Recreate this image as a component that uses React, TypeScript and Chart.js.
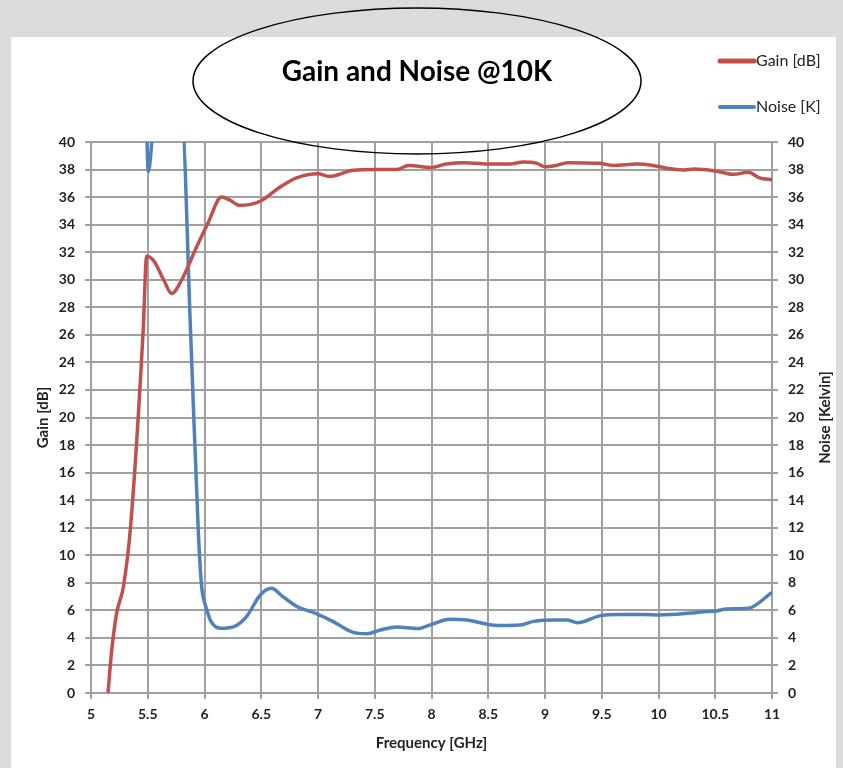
import React, { useEffect, useRef } from 'react';
import { Chart, registerables } from 'chart.js';

Chart.register(...registerables);

const chartTitle = 'Gain and Noise @10K';
const seriesNames = ['Gain [dB]', 'Noise [K]'];
const xAxisTitle = 'Frequency [GHz]';
const leftAxisTitle = 'Gain [dB]';
const rightAxisTitle = 'Noise [Kelvin]';

const xTickLabels = ['5', '5.5', '6', '6.5', '7', '7.5', '8', '8.5', '9', '9.5', '10', '10.5', '11'];
const yTickLabels = ['0', '2', '4', '6', '8', '10', '12', '14', '16', '18', '20', '22', '24', '26', '28', '30', '32', '34', '36', '38', '40'];

const gainFreq = [5.15, 5.18, 5.226, 5.285, 5.35, 5.46, 5.49, 5.55, 5.64, 5.71, 5.8, 5.92, 6.03, 6.15, 6.22, 6.31, 6.49, 6.67, 6.81, 7.0, 7.1, 7.31, 7.5, 7.69, 7.8, 8.0, 8.13, 8.3, 8.49, 8.69, 8.81, 8.93, 9.0, 9.1, 9.2, 9.48, 9.6, 9.81, 9.95, 10.07, 10.22, 10.31, 10.5, 10.66, 10.79, 10.89, 11.0];
const gainValues = [0, 2.9, 5.8, 7.7, 12.2, 26.4, 31.7, 31.4, 30.0, 29.0, 30.0, 32.2, 34.1, 36.0, 35.8, 35.4, 35.7, 36.75, 37.4, 37.7, 37.5, 37.95, 38.0, 38.0, 38.3, 38.15, 38.4, 38.5, 38.4, 38.4, 38.55, 38.45, 38.2, 38.3, 38.5, 38.45, 38.3, 38.4, 38.3, 38.1, 37.97, 38.04, 37.9, 37.65, 37.8, 37.4, 37.25];

const noiseFreq = [5.48, 5.505, 5.56, 5.8, 5.877, 5.945, 5.975, 6.0, 6.03, 6.05, 6.14, 6.27, 6.37, 6.49, 6.59, 6.69, 6.81, 6.99, 7.13, 7.31, 7.43, 7.55, 7.69, 7.88, 8.0, 8.16, 8.31, 8.5, 8.6, 8.78, 8.9, 9.1, 9.19, 9.29, 9.48, 9.66, 9.87, 10.01, 10.28, 10.4, 10.51, 10.6, 10.79, 11.0];
const noiseValues = [45, 37.85, 41.5, 41.5, 26.3, 11.8, 7.7, 6.6, 5.8, 5.3, 4.7, 4.86, 5.54, 7.1, 7.6, 7.0, 6.3, 5.75, 5.2, 4.4, 4.3, 4.57, 4.8, 4.68, 4.98, 5.35, 5.3, 4.98, 4.9, 4.93, 5.2, 5.3, 5.3, 5.1, 5.6, 5.7, 5.7, 5.66, 5.8, 5.9, 5.95, 6.1, 6.15, 7.3];

const GAIN_COLOR = '#c0504d';
const NOISE_COLOR = '#4f81bd';
const GRID_COLOR = '#a0a0a0';
const TEXT_COLOR = '#222222';
const FONT = 'Lato, "DejaVu Sans", sans-serif';

const decorPlugin = {
  id: 'decor',
  beforeDraw(chart: any) {
    const ctx = chart.ctx;
    ctx.save();
    ctx.fillStyle = '#dcdcdc';
    ctx.fillRect(0, 0, chart.width, chart.height);
    ctx.fillStyle = '#ffffff';
    ctx.fillRect(11, 37, 825, 731);
    ctx.restore();
  },
  afterDraw(chart: any) {
    const ctx = chart.ctx;
    ctx.save();
    ctx.beginPath();
    ctx.ellipse(417, 81, 224, 73, 0, 0, Math.PI * 2);
    ctx.strokeStyle = '#000000';
    ctx.lineWidth = 1.5;
    ctx.stroke();
    ctx.fillStyle = '#000000';
    ctx.font = `bold 28px ${FONT}`;
    ctx.textAlign = 'center';
    ctx.textBaseline = 'middle';
    ctx.fillText(chartTitle, 417, 72);
    const items = [
      { name: seriesNames[0], color: GAIN_COLOR, y: 61, w: 5 },
      { name: seriesNames[1], color: NOISE_COLOR, y: 107, w: 4 },
    ];
    ctx.font = `16px ${FONT}`;
    ctx.textAlign = 'left';
    for (const it of items) {
      ctx.beginPath();
      ctx.moveTo(720, it.y);
      ctx.lineTo(754, it.y);
      ctx.strokeStyle = it.color;
      ctx.lineWidth = it.w;
      ctx.lineCap = 'round';
      ctx.stroke();
      ctx.fillStyle = TEXT_COLOR;
      ctx.fillText(it.name, 756, it.y);
    }
    const ca = chart.chartArea;
    ctx.translate(825, (ca.top + ca.bottom) / 2);
    ctx.rotate(-Math.PI / 2);
    ctx.font = `bold 15px ${FONT}`;
    ctx.textAlign = 'center';
    ctx.textBaseline = 'middle';
    ctx.fillStyle = TEXT_COLOR;
    ctx.fillText(rightAxisTitle, 0, 0);
    ctx.restore();
  },
};

export default function App() {
  const canvasRef = useRef<HTMLCanvasElement | null>(null);

  useEffect(() => {
    const canvas = canvasRef.current;
    if (!canvas) return;
    const tickFont = { family: FONT, size: 14, weight: 'bold' as const };
    const titleFont = { family: FONT, size: 15, weight: 'bold' as const };
    const chart = new Chart(canvas, {
      type: 'line',
      data: {
        datasets: [
          {
            label: seriesNames[0],
            data: gainFreq.map((f, i) => ({ x: f, y: gainValues[i] })),
            borderColor: GAIN_COLOR,
            backgroundColor: GAIN_COLOR,
            borderWidth: 3.5,
            pointRadius: 0,
            cubicInterpolationMode: 'monotone',
            yAxisID: 'y',
          },
          {
            label: seriesNames[1],
            data: noiseFreq.map((f, i) => ({ x: f, y: noiseValues[i] })),
            borderColor: NOISE_COLOR,
            backgroundColor: NOISE_COLOR,
            borderWidth: 3.5,
            pointRadius: 0,
            cubicInterpolationMode: 'monotone',
            yAxisID: 'y1',
          },
        ],
      },
      options: {
        responsive: false,
        maintainAspectRatio: false,
        animation: false,
        devicePixelRatio: 1,
        layout: { padding: { top: 142, left: 0, right: 0, bottom: 0 } },
        plugins: {
          legend: { display: false },
          title: { display: false },
          tooltip: { enabled: false },
        },
        scales: {
          x: {
            type: 'linear',
            min: 5,
            max: 11,
            afterFit: (s: any) => { s.height = 75; },
            afterBuildTicks: (s: any) => {
              s.ticks = xTickLabels.map((t) => ({ value: parseFloat(t) }));
            },
            ticks: {
              autoSkip: false,
              maxRotation: 0,
              padding: 7,
              color: TEXT_COLOR,
              font: tickFont,
              callback: (_v: any, i: number) => xTickLabels[i],
            },
            grid: { color: GRID_COLOR, lineWidth: 2, tickLength: 6 },
            border: { color: GRID_COLOR, width: 2 },
            title: {
              display: true,
              text: xAxisTitle,
              color: TEXT_COLOR,
              font: titleFont,
              padding: { top: 0, bottom: 16 },
            },
          },
          y: {
            type: 'linear',
            position: 'left',
            min: 0,
            max: 40,
            afterFit: (s: any) => { s.width = 91; },
            afterBuildTicks: (s: any) => {
              s.ticks = yTickLabels.map((t) => ({ value: parseFloat(t) }));
            },
            ticks: {
              autoSkip: false,
              padding: 10,
              color: TEXT_COLOR,
              font: tickFont,
              callback: (_v: any, i: number) => yTickLabels[i],
            },
            grid: { color: GRID_COLOR, lineWidth: 2, tickLength: 6 },
            border: { color: GRID_COLOR, width: 2 },
            title: {
              display: true,
              text: leftAxisTitle,
              color: TEXT_COLOR,
              font: titleFont,
              padding: { top: 34, bottom: 0 },
            },
          },
          y1: {
            type: 'linear',
            position: 'right',
            min: 0,
            max: 40,
            afterFit: (s: any) => { s.width = 71; },
            afterBuildTicks: (s: any) => {
              s.ticks = yTickLabels.map((t) => ({ value: parseFloat(t) }));
            },
            ticks: {
              autoSkip: false,
              padding: 10,
              color: TEXT_COLOR,
              font: tickFont,
              callback: (_v: any, i: number) => yTickLabels[i],
            },
            grid: { drawOnChartArea: false, color: GRID_COLOR, lineWidth: 2, tickLength: 6 },
            border: { color: GRID_COLOR, width: 2 },
          },
        },
      },
      plugins: [decorPlugin],
    });
    return () => chart.destroy();
  }, []);

  return (
    <div style={{ position: 'fixed', left: 0, top: 0, width: 843, height: 768 }}>
      <canvas ref={canvasRef} width={843} height={768} style={{ display: 'block', width: 843, height: 768 }} />
    </div>
  );
}
